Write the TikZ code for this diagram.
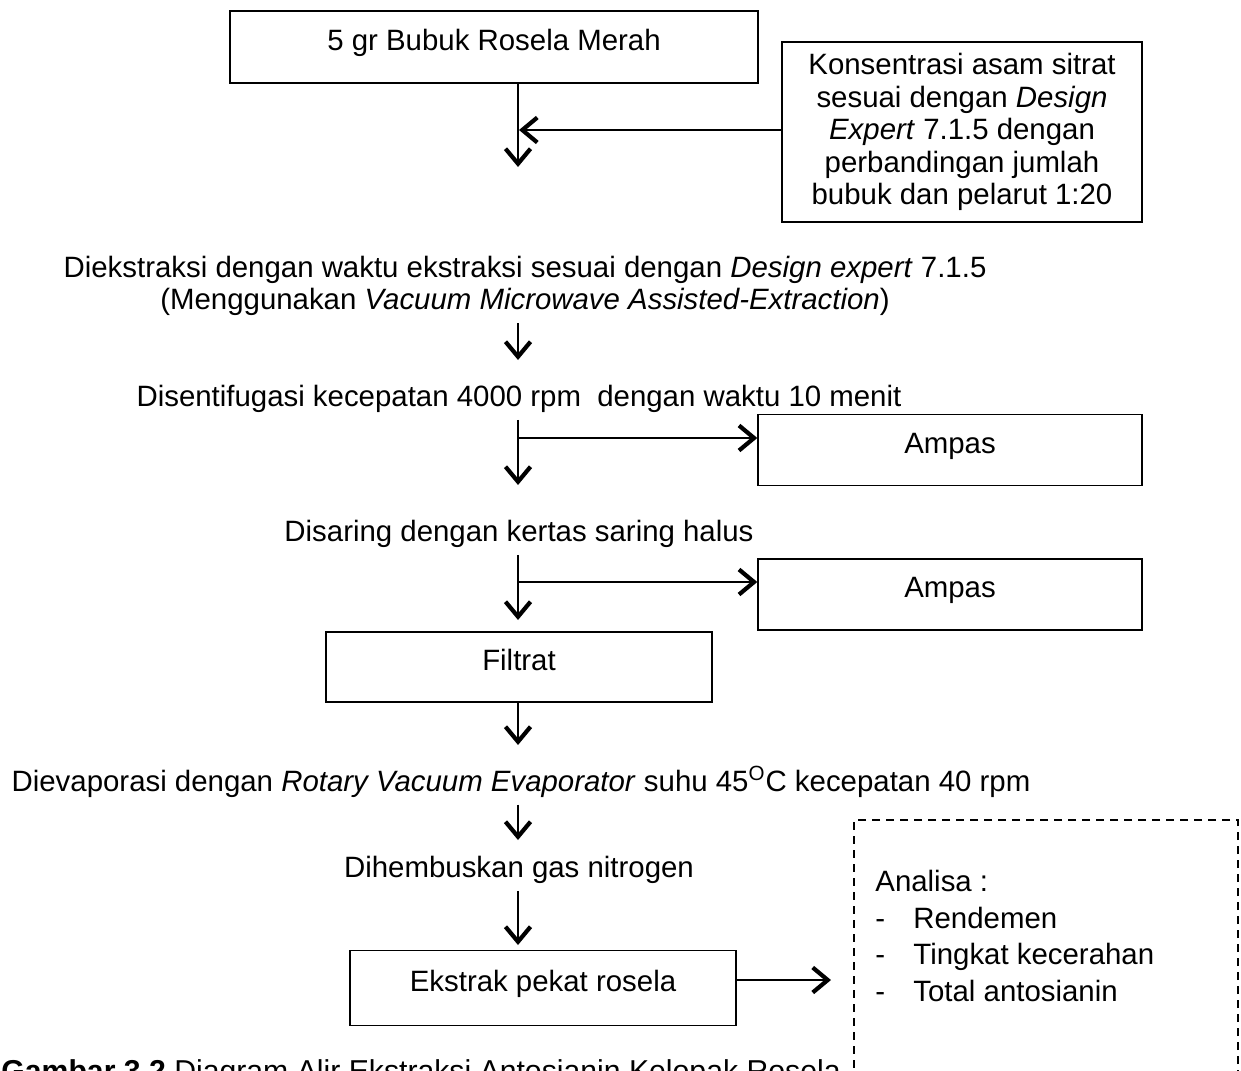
\documentclass[tikz,border=0pt]{standalone}
\usepackage{fontspec}
\setmainfont{Liberation Sans}
\usetikzlibrary{arrows.meta}
\begin{document}
\begin{tikzpicture}[x=0.5pt, y=-0.5pt, font=\fontsize{14.7}{16.25}\selectfont,
  kotak/.style={draw, line width=0.7pt, text height=11pt, text depth=7.8pt},
  alir/.style={line width=1.1pt, -{Straight Barb[length=7.5pt,width=12.5pt,line width=2.1pt]}}]
  \clip (0,0) rectangle (1241,1070);
  % kotak proses
  \node[kotak, minimum width=264pt, minimum height=36pt] (bubuk) at (494,47) {5 gr Bubuk Rosela Merah};
  \node[draw, line width=0.7pt, minimum width=180pt, minimum height=90pt, align=center] (asam) at (962,132)
    {Konsentrasi asam sitrat\\ sesuai dengan \textit{Design}\\ \textit{Expert} 7.1.5 dengan\\ perbandingan jumlah\\ bubuk dan pelarut 1:20};
  \node[align=center] (ekstraksi) at (525,286) {Diekstraksi dengan waktu ekstraksi sesuai dengan \textit{Design expert} 7.1.5\\ (Menggunakan \textit{Vacuum Microwave Assisted-Extraction})};
  \node (sentrifugasi) at (519,399) {Disentifugasi kecepatan 4000 rpm~ dengan waktu 10 menit};
  \node[kotak, minimum width=192pt, minimum height=35.5pt] (ampasa) at (950,450) {Ampas};
  \node (saring) at (519,534) {Disaring dengan kertas saring halus};
  \node[kotak, minimum width=192pt, minimum height=35.5pt] (ampasb) at (950,594.5) {Ampas};
  \node[kotak, minimum width=193pt, minimum height=35pt] (filtrat) at (519,667) {Filtrat};
  \node (evaporasi) at (521,782) {Dievaporasi dengan \textit{Rotary Vacuum Evaporator} suhu 45\textsuperscript{O}C kecepatan 40 rpm};
  \node (nitrogen) at (519,870) {Dihembuskan gas nitrogen};
  \node[kotak, minimum width=193pt, minimum height=37.5pt] (ekstrak) at (543,988) {Ekstrak pekat rosela};
  % analisa
  \node[draw, dashed, dash pattern=on 4pt off 3pt, line width=0.7pt, minimum width=192pt, minimum height=140pt] (analisa) at (1046,960) {};
  \node[anchor=north west, align=left, inner sep=0pt, font=\fontsize{14.7}{18.25}\selectfont] (daftar) at (875,870)
    {Analisa :\\ \makebox[19pt][l]{-}Rendemen\\ \makebox[19pt][l]{-}Tingkat kecerahan\\ \makebox[19pt][l]{-}Total antosianin};
  \node[anchor=base west, inner sep=0pt, font=\fontsize{15.1}{18}\selectfont] (judul) at (1,1081) {\textbf{Gambar 3.2} Diagram Alir Ekstraksi Antosianin Kelopak Rosela};
  % alur
  \coordinate (p1) at (518,167);
  \coordinate (m1) at (519,130);
  \coordinate (p2) at (518,360);
  \coordinate (p3) at (518,485);
  \coordinate (b1) at (518,438);
  \coordinate (p4) at (518,620);
  \coordinate (b2) at (518,582);
  \coordinate (p5) at (518,745);
  \coordinate (p6) at (518,840);
  \coordinate (p7) at (518,945);
  \coordinate (p8) at (831,980);
  \draw[alir] (bubuk.south -| p1) -- (p1);
  \draw[alir] (asam.west |- m1) -- (m1);
  \draw[alir] (ekstraksi.south -| p2) -- (p2);
  \draw[alir] (sentrifugasi.south -| p3) -- (p3);
  \draw[alir] (b1) -- (ampasa.west |- b1);
  \draw[alir] (saring.south -| p4) -- (p4);
  \draw[alir] (b2) -- (ampasb.west |- b2);
  \draw[alir] (filtrat.south -| p5) -- (p5);
  \draw[alir] (evaporasi.south -| p6) -- (p6);
  \draw[alir] (nitrogen.south -| p7) -- (p7);
  \draw[alir] (ekstrak.east |- p8) -- (p8);
\end{tikzpicture}
\end{document}
